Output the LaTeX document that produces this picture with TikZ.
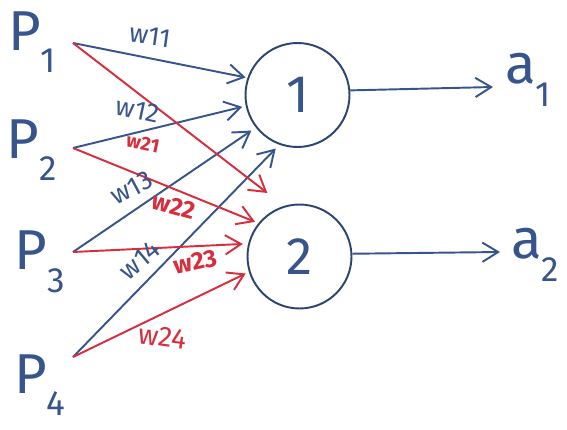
\documentclass[tikz,border=0pt]{standalone}
\usepackage{fontspec}
\setmainfont{Fira Sans}
\usetikzlibrary{arrows.meta}
\definecolor{inkblue}{RGB}{55,85,140}
\definecolor{inkred}{RGB}{215,45,60}
\newcommand{\sbs}[1]{\raisebox{-0.4em}{\fontsize{20}{20}\selectfont #1}}
\begin{document}
\begin{tikzpicture}[x=0.02cm,y=-0.02cm,
  wire/.style={line width=1.1pt,-{Straight Barb[length=9pt,width=11pt,line width=1.1pt]}},
  bw/.style={wire,inkblue},
  rw/.style={wire,inkred},
  neuron/.style={circle,draw=inkblue!80!black,line width=1.1pt,minimum size=2.08cm,inner sep=0pt,
     text=inkblue,font=\fontsize{30}{30}\selectfont},
  inlab/.style={text=inkblue,font=\fontsize{32}{32}\selectfont,inner sep=0pt},
  wlab/.style={inner sep=0pt,font=\fontsize{15}{15}\selectfont}]
\useasboundingbox (0,0) rectangle (567,429);
\fill[white] (0,0) rectangle (567,429);
% inputs
\node[inlab] (p1) at (32,42) {P\sbs{1}};
\node[inlab] (p2) at (32,150) {P\sbs{2}};
\node[inlab] (p3) at (40,262) {P\sbs{3}};
\node[inlab] (p4) at (40,385) {P\sbs{4}};
\coordinate (s1) at (73,43);
\coordinate (s2) at (73,148);
\coordinate (s3) at (73,252);
\coordinate (s4) at (73,357);
% neurons
\node[neuron] (c1) at (297.5,95) {1};
\node[neuron] (c2) at (299.5,256.5) {2};
% outputs
\node[inlab] (a1) at (528,80) {a\sbs{1}};
\node[inlab] (a2) at (535,255) {a\sbs{2}};
\coordinate (o1) at (493,87);
\coordinate (o2) at (500,252);
% blue weights
\draw[bw,shorten >=1pt] (s1) -- (c1.161);
\draw[bw,shorten >=2pt] (s2) -- (c1.192);
\draw[bw,shorten >=3pt] (s3) -- (c1.218);
\draw[bw,shorten >=3pt] (s4) -- (c1.250);
% red weights
\draw[rw,shorten >=12pt] (s1) -- (c2.107);
\draw[rw,shorten >=2pt] (s2) -- (c2.141);
\draw[rw,shorten >=3pt] (s3) -- (c2.166);
\draw[rw,shorten >=2pt] (s4) -- (c2.197);
% outputs
\draw[bw] (c1.5) -- (o1);
\draw[bw] (c2.3) -- (o2);
% weight labels
\node[wlab,text=inkblue,rotate=-8] (l11) at (150,36) {w11};
\node[wlab,text=inkblue,rotate=-12] (l12) at (138,110) {w12};
\node[wlab,text=inkred,rotate=-12,font=\fontsize{11}{11}\selectfont\bfseries] (l21) at (143,143) {w21};
\node[wlab,text=inkblue,rotate=28] (l13) at (132,188) {w13};
\node[wlab,text=inkred,rotate=-15,font=\fontsize{14}{14}\selectfont\bfseries] (l22) at (174,206) {w22};
\node[wlab,text=inkblue,rotate=40] (l14) at (140,260) {w14};
\node[wlab,text=inkred,rotate=12,font=\fontsize{14}{14}\selectfont\bfseries] (l23) at (195,262) {w23};
\node[wlab,text=inkred,rotate=-8,font=\fontsize{16}{16}\selectfont] (l24) at (163,337) {w24};
\end{tikzpicture}
\end{document}
